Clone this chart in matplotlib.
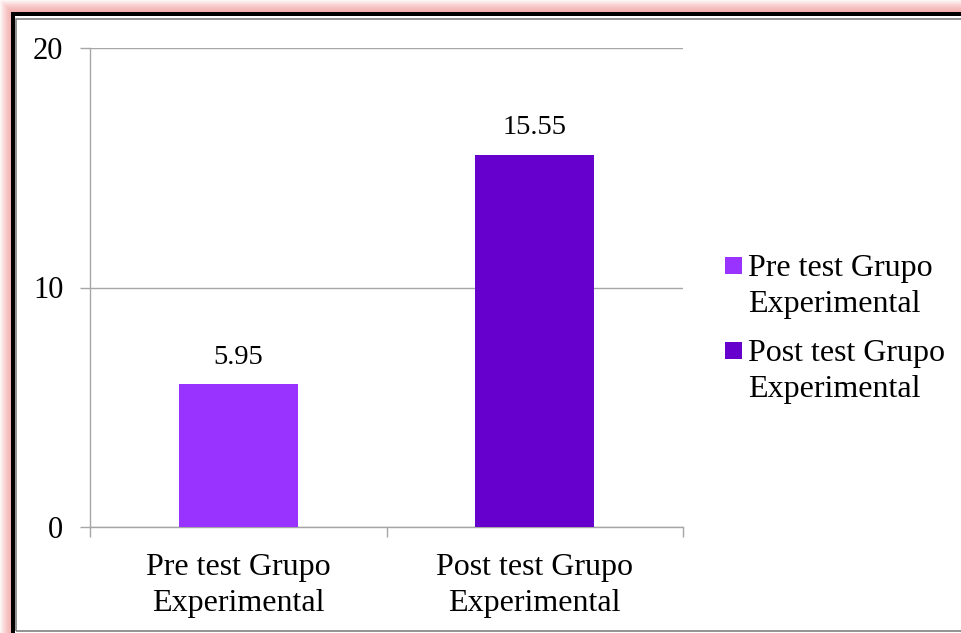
import matplotlib.pyplot as plt
from matplotlib.patches import Rectangle

categorias = ["Pre test Grupo\nExperimental", "Post test Grupo\nExperimental"]
valores = [5.95, 15.55]
etiquetas = ["5.95", "15.55"]
colores = ["#9933FF", "#6600CC"]
yticks = [0, 10, 20]

W, H = 961, 633
plt.rcParams["font.family"] = ["Liberation Serif", "DejaVu Serif"]

fig = plt.figure(figsize=(W / 100, H / 100), dpi=100)


def caja(x, y, w, h, z=0, **kw):
    # rectangulo en pixeles, y medido desde arriba
    r = Rectangle((x / W, 1 - (y + h) / H), w / W, h / H,
                  transform=fig.transFigure, zorder=z, **kw)
    fig.patches.append(r)
    return r


# marco: brillo rosa, borde negro, linea gris
for i in range(12):
    caja(i, i, W + 40, H + 40, facecolor="#F08080", alpha=0.07, linewidth=0)
caja(11, 12, W + 40, H + 40, facecolor="black", linewidth=0)
caja(14.5, 16.5, W + 40, H + 40, facecolor="white", linewidth=0)
caja(15.5, 18.5, W + 40, 631 - 18.5, facecolor="none",
     edgecolor="#808080", linewidth=1.2)

ax = fig.add_axes([90 / W, (H - 527) / H, (683 - 90) / W, (527 - 48) / H])
ax.set_zorder(5)
ax.patch.set_visible(False)
x = [0, 1]
barras = ax.bar(x, valores, width=0.4, color=colores, zorder=3)
for xi, v, t in zip(x, valores, etiquetas):
    ax.text(xi, v + 0.85, t, ha="center", va="baseline", fontsize=20.5)

ax.set_xlim(-0.5, 1.5)
ax.set_ylim(0, 20)
ax.set_yticks(yticks)
ax.set_yticklabels([str(t) for t in yticks], fontsize=22)
ax.yaxis.grid(True, color="#A6A6A6", linewidth=1.0, zorder=0)
ax.set_xticks(x)
ax.set_xticklabels(categorias, fontsize=23, linespacing=1.32)
ax.set_xticks([-0.5, 0.5, 1.5], minor=True)
ax.tick_params(axis="x", which="major", length=0, pad=18.5)
ax.tick_params(axis="x", which="minor", length=7.2, color="#A6A6A6", width=1)
ax.tick_params(axis="y", length=7.2, color="#A6A6A6", width=1, pad=12)
for s in ["top", "right"]:
    ax.spines[s].set_visible(False)
for s in ["left", "bottom"]:
    ax.spines[s].set_color("#A6A6A6")
    ax.spines[s].set_linewidth(1.0)

# leyenda a mano: cuadro alineado con la primera linea del texto
y_leyenda = [275, 360]
for b, lab, yb in zip(barras, categorias, y_leyenda):
    caja(725, yb - 18, 17, 17, z=6, facecolor=b.get_facecolor(), linewidth=0)
    fig.text(748 / W, 1 - (yb + 37) / H, lab, fontsize=23, ha="left",
             va="baseline", linespacing=1.32, zorder=6)

fig.savefig("out.png", dpi=100)
